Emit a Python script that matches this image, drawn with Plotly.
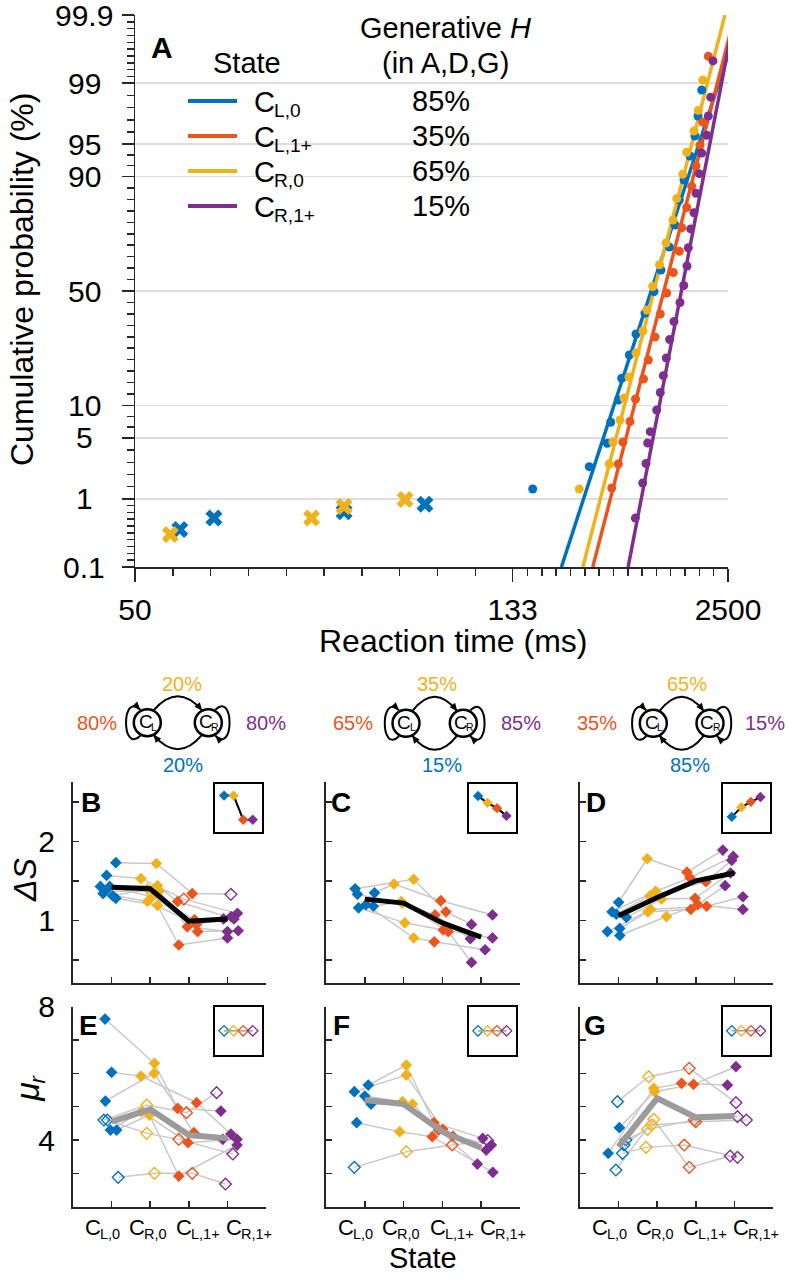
import math
import numpy as np
import plotly.graph_objects as go
from statistics import NormalDist

W, H = 788, 1280
FONT = "Liberation Sans"
AX = "#262626"
ND = NormalDist()

# ------------------------------------------------------------------ data
STATE_ORDER_A = ["CL0", "CL1", "CR0", "CR1"]
STATE_ORDER_BG = ["CL0", "CR0", "CL1", "CR1"]
STATE_SUB = {"CL0": "L,0", "CL1": "L,1+", "CR0": "R,0", "CR1": "R,1+"}
GENERATIVE_H = {"CL0": "85%", "CL1": "35%", "CR0": "65%", "CR1": "15%"}
COLORS = {"CL0": "#0072BD", "CL1": "#EA551D", "CR0": "#F0B21C", "CR1": "#7E2F8E"}

# Panel A: RT quantiles (ms) and cumulative probability (%)
RT_CL0 = [145.9, 200.6, 227.8, 233.8, 248.4, 255.6, 273.1, 290.6, 318.2, 351.4,
          382.4, 427.4, 464.7, 497.5, 539.4, 603.9, 670.7, 718.4, 788.0]
P_CL0 = [1.33, 2.46, 4.41, 7.08, 11.12, 16.42, 23.68, 31.51, 40.14, 49.69,
         59.29, 68.89, 77.00, 84.59, 89.30, 93.47, 95.87, 97.50, 98.78]
RT_CR0 = [188.1, 231.3, 238.0, 251.9, 260.6, 272.3, 290.6, 311.5, 325.0, 346.1,
          375.4, 408.3, 450.9, 477.1, 526.9, 566.6, 656.2, 723.6, 809.1]
P_CR0 = [1.33, 2.64, 4.54, 7.43, 11.55, 16.78, 24.38, 32.71, 41.58, 52.01,
         61.58, 70.45, 78.67, 84.96, 90.42, 93.98, 96.34, 97.84, 99.09]
RT_CL1 = [235.6, 248.4, 258.3, 274.8, 289.2, 313.2, 329.6, 355.5, 379.1, 412.2,
          452.9, 497.5, 518.1, 566.6, 625.0, 685.9, 754.1, 809.1, 951.5]
P_CL1 = [1.37, 2.64, 4.54, 7.20, 11.33, 16.23, 21.99, 30.33, 39.84, 49.11,
         58.20, 67.17, 76.04, 82.51, 87.97, 91.94, 94.87, 97.07, 99.57]
RT_CR1 = [288.7, 310.7, 321.5, 327.4, 336.9, 362.8, 379.1, 394.0, 410.0, 429.7,
          457.7, 503.3, 536.5, 569.8, 584.1, 612.4, 656.2, 685.9, 741.3, 788.0,
          905.8, 951.5, 1028.8, 1116.1]
P_CR1 = [0.55, 1.58, 2.67, 4.44, 5.76, 9.14, 12.79, 17.15, 22.66, 29.36,
         36.64, 44.88, 52.46, 61.02, 68.61, 75.66, 80.94, 86.30, 90.55, 93.87,
         95.94, 97.50, 98.50, 99.50]
# early (express) responses, drawn as crosses
XRT_CL0 = [54.0, 57.5, 76.4, 96.0]
XP_CL0 = [0.38, 0.55, 0.67, 0.85]
XRT_CR0 = [53.1, 70.6, 76.4, 90.3]
XP_CR0 = [0.32, 0.55, 0.79, 0.98]
# LATER fits (promptness mean and SD, 1/s)
FIT_MU = {"CL0": 2.94, "CL1": 2.52, "CR0": 2.85, "CR1": 1.94}
FIT_SIGMA = {"CL0": 0.96, "CL1": 0.76, "CR0": 0.76, "CR1": 0.57}

A_YTICKS = [0.1, 1, 5, 10, 50, 90, 95, 99, 99.9]
A_XTICKS = [50, 133, 2500]

CAT_POS = [1, 2, 3, 4]

# Panels B-D: Delta S per subject ([state][subject]); state order CL0, CR0, CL1+, CR1+
B_Y = [[1.73, 1.57, 1.43, 1.43, 1.37, 1.34, 1.31, 1.28],
       [1.72, 1.53, 1.44, 1.30, 1.37, 1.24, 1.40, 1.19],
       [1.34, 1.27, 1.24, 1.01, 0.92, 0.95, 0.86, 0.69],
       [1.33, 1.09, 1.02, 1.05, 0.86, 1.02, 0.87, 0.78]]
B_X = [[1.11, 0.87, 0.71, 0.95, 0.83, 0.78, 1.03, 1.11],
       [2.16, 1.76, 2.19, 2.05, 2.23, 1.93, 1.93, 2.19],
       [3.09, 2.87, 2.71, 3.15, 2.96, 3.20, 3.23, 2.74],
       [4.09, 4.26, 4.17, 4.10, 4.00, 3.90, 4.28, 4.00]]
B_OPEN = [[0, 0, 0, 0, 0, 0, 0, 0],
          [0, 0, 0, 0, 0, 0, 0, 0],
          [0, 1, 0, 0, 0, 0, 0, 0],
          [1, 0, 0, 0, 0, 0, 0, 0]]
B_MEAN = [1.42, 1.40, 0.99, 1.02]

C_Y = [[1.35, 1.40, 1.33, 1.16, 1.20, 1.18],
       [1.46, 1.52, 1.22, 0.97, 0.78, 1.24],
       [1.25, 1.11, 1.07, 0.88, 0.73, 0.86],
       [1.07, 0.95, 0.77, 0.78, 0.63, 0.47]]
C_X = [[1.25, 0.75, 0.81, 0.84, 1.03, 1.22],
       [1.75, 2.26, 1.96, 2.03, 2.26, 1.94],
       [2.96, 3.09, 2.81, 3.02, 2.79, 3.15],
       [4.29, 3.75, 3.72, 4.29, 4.10, 3.75]]
C_OPEN = [[0] * 6, [0] * 6, [0] * 6, [0] * 6]
C_MEAN = [1.27, 1.22, 0.97, 0.79]

D_Y = [[1.23, 1.11, 1.08, 1.04, 0.90, 0.86, 0.81],
       [1.78, 1.37, 1.31, 1.27, 1.11, 1.14, 1.05],
       [1.61, 1.54, 1.49, 1.28, 1.14, 1.18, 1.20],
       [1.89, 1.81, 1.76, 1.60, 1.44, 1.30, 1.14]]
D_X = [[1.00, 0.83, 0.94, 1.20, 1.03, 0.71, 1.03],
       [1.74, 1.96, 1.81, 2.11, 1.76, 1.83, 2.24],
       [2.77, 2.85, 3.26, 2.98, 2.87, 3.28, 3.05],
       [3.70, 3.97, 3.93, 3.90, 3.76, 4.22, 4.22]]
D_OPEN = [[0] * 7, [0] * 7, [0] * 7, [0] * 7]
D_MEAN = [1.06, 1.29, 1.50, 1.60]

# Panels E-G: mu_r per subject
E_Y = [[7.63, 6.03, 5.17, 4.60, 4.60, 4.30, 4.30, 2.88],
       [6.30, 5.92, 6.00, 5.05, 4.20, 4.85, 4.75, 3.00],
       [4.95, 5.12, 4.22, 4.82, 4.02, 3.92, 2.92, 3.00],
       [4.87, 4.18, 4.02, 5.42, 3.58, 4.02, 3.85, 2.68]]
E_X = [[0.83, 1.00, 0.84, 0.80, 0.89, 0.97, 1.13, 1.17],
       [2.11, 1.76, 2.10, 1.91, 1.91, 1.78, 1.98, 2.11],
       [2.71, 3.20, 3.13, 2.94, 2.74, 2.98, 2.74, 3.09],
       [3.83, 4.09, 3.88, 3.72, 4.14, 4.25, 4.25, 3.95]]
E_OPEN = [[0, 0, 0, 1, 1, 0, 0, 1]] * 4
E_MEAN = [4.55, 4.92, 4.15, 4.05]

F_Y = [[5.65, 5.45, 5.32, 5.08, 4.52, 3.18],
       [6.25, 5.95, 5.15, 5.08, 4.25, 3.65],
       [4.52, 4.32, 4.12, 4.30, 4.10, 3.85],
       [4.05, 3.70, 3.85, 3.28, 3.03, 3.98]]
F_X = [[1.09, 0.73, 1.00, 1.16, 0.79, 0.73],
       [2.07, 2.07, 1.97, 2.23, 1.90, 2.07],
       [2.78, 3.01, 3.27, 2.90, 2.74, 3.25],
       [4.04, 4.13, 4.26, 3.90, 4.30, 4.17]]
F_OPEN = [[0, 0, 0, 0, 0, 1]] * 4
F_MEAN = [5.20, 5.08, 4.25, 3.77]

G_Y = [[5.15, 4.37, 3.60, 4.00, 3.60, 3.10, 3.85],
       [5.90, 5.45, 5.55, 4.32, 3.78, 4.62, 4.45],
       [6.15, 5.67, 5.70, 4.60, 3.85, 3.18, 4.55],
       [5.12, 6.20, 5.65, 4.70, 3.48, 3.52, 4.60]]
G_X = [[0.97, 1.02, 0.73, 1.19, 1.10, 0.93, 1.14],
       [1.78, 1.93, 1.91, 1.75, 1.71, 1.91, 1.85],
       [2.83, 2.94, 2.63, 2.96, 2.70, 2.83, 3.00],
       [4.04, 4.04, 3.82, 4.08, 4.08, 3.89, 4.31]]
G_OPEN = [[1, 0, 0, 1, 1, 1, 1]] * 4
G_MEAN = [3.80, 5.25, 4.68, 4.72]

# inset model predictions (normalised)
INSET_B = [0.76, 0.76, 0.26, 0.26]
INSET_C = [0.75, 0.61, 0.50, 0.34]
INSET_D = [0.32, 0.52, 0.63, 0.73]
INSET_EFG = [0.5, 0.5, 0.5, 0.5]

# transition diagrams: (top CL->CR, left CL->CL, right CR->CR, bottom CR->CL)
DIAG_B = ["20%", "80%", "80%", "20%"]
DIAG_C = ["35%", "65%", "85%", "15%"]
DIAG_D = ["65%", "35%", "15%", "85%"]

DS_TICKS = [1, 2]
DS_MINOR = [0.5, 1.5, 2.5]
MU_TICKS = [4, 8]
MU_MINOR = [2, 3, 5, 6, 7]

# Arial/Liberation Sans advance widths (em units) used to lay out subscripts
CHAR_W = {"C": 0.722, "L": 0.556, "R": 0.722, ",": 0.278, "0": 0.556,
          "1": 0.556, "+": 0.584, "r": 0.333, "μ": 0.576}


# ------------------------------------------------------------------ helpers
def probit(p):
    return ND.inv_cdf(p / 100.0)


def recip(rt):
    return -1000.0 / rt


def P(px, py):
    return px / W, 1 - py / H


def fmt(px, py):
    x, y = P(px, py)
    return f"{x:.5f},{y:.5f}"


def dom_x(a, b):
    return [a / W, b / W]


def dom_y(top, bottom):
    return [1 - bottom / H, 1 - top / H]


def ann(text, px, py, size, color="black", **kw):
    x, y = P(px, py)
    d = dict(text=text, x=x, y=y, xref="paper", yref="paper", showarrow=False,
             font=dict(size=size, color=color, family=FONT),
             xanchor="center", yanchor="middle")
    d.update(kw)
    return d


def tw(s):
    return sum(CHAR_W.get(c, 0.556) for c in s)


def sub_label(main, sub, x, y, size, xref="paper", yref="paper", align="center",
              color="black", ratio=0.66, drop=0.30):
    ss = size * ratio
    wm = tw(main) * size
    ws = tw(sub) * ss
    left = -(wm + ws) / 2 if align == "center" else 0
    common = dict(x=x, y=y, xref=xref, yref=yref, showarrow=False,
                  xanchor="left", yanchor="middle", borderpad=0)
    return [dict(text=main, xshift=left, font=dict(size=size, family=FONT, color=color),
                 **common),
            dict(text=sub, xshift=left + wm - 1, yshift=-drop * size,
                 font=dict(size=ss, family=FONT, color=color), **common)]


traces = []
annotations = []
shapes = []

# ------------------------------------------------------------------ panel A
zlo, zhi = probit(A_YTICKS[0]), probit(A_YTICKS[-1])
A_DATA = {"CL0": (RT_CL0, P_CL0), "CL1": (RT_CL1, P_CL1),
          "CR0": (RT_CR0, P_CR0), "CR1": (RT_CR1, P_CR1)}
for k in STATE_ORDER_A:
    mu, sg = FIT_MU[k], FIT_SIGMA[k]
    traces.append(go.Scatter(x=[-mu + sg * zlo, -mu + sg * zhi], y=[zlo, zhi],
                             mode="lines", line=dict(color=COLORS[k], width=3.5),
                             xaxis="x", yaxis="y", hoverinfo="skip"))
for k in STATE_ORDER_A:
    rt, p = A_DATA[k]
    traces.append(go.Scatter(x=[recip(t) for t in rt], y=[probit(v) for v in p],
                             mode="markers", marker=dict(color=COLORS[k], size=9),
                             xaxis="x", yaxis="y"))
for k, rt, p in [("CL0", XRT_CL0, XP_CL0), ("CR0", XRT_CR0, XP_CR0)]:
    traces.append(go.Scatter(x=[recip(t) for t in rt], y=[probit(v) for v in p],
                             mode="markers",
                             marker=dict(color=COLORS[k], size=15, symbol="x",
                                         line=dict(width=0)),
                             xaxis="x", yaxis="y"))

zmaj = [probit(p) for p in A_YTICKS]
counts = [10, 5, 3, 10, 10, 3, 5, 10]
y_minor = []
for (a, b), c in zip(zip(zmaj[:-1], zmaj[1:]), counts):
    y_minor += list(np.linspace(a, b, c + 1)[1:-1])
x_minor = list(np.arange(-20, -7.5, 1.25)[1:]) + list(np.linspace(-7.5, -0.4, 16)[1:-1])

layout = dict(
    width=W, height=H, margin=dict(l=0, r=0, t=0, b=0, autoexpand=False),
    paper_bgcolor="white", plot_bgcolor="rgba(0,0,0,0)", showlegend=False,
    font=dict(family=FONT, color="black"),
)
layout["xaxis"] = dict(
    domain=dom_x(135, 728), range=[recip(A_XTICKS[0]), recip(A_XTICKS[-1])],
    tickmode="array", tickvals=[recip(t) for t in A_XTICKS],
    ticktext=[str(t) for t in A_XTICKS], tickfont=dict(size=30),
    ticks="outside", ticklen=13, tickwidth=1.5, tickcolor=AX, ticklabelstandoff=2,
    showline=True, linecolor=AX, linewidth=1.5, showgrid=False, zeroline=False,
    anchor="y", automargin=False,
    minor=dict(tickmode="array", tickvals=x_minor, ticks="outside", ticklen=7,
               tickwidth=1.5, tickcolor=AX, showgrid=False),
)
layout["yaxis"] = dict(
    domain=dom_y(15, 567), range=[zlo, zhi], tickmode="array", tickvals=zmaj,
    showticklabels=False, ticks="outside", ticklen=12, tickwidth=1.5, tickcolor=AX,
    showline=True, linecolor=AX, linewidth=1.5, showgrid=True,
    gridcolor="#DDDDDD", gridwidth=1.5, zeroline=False, anchor="x", automargin=False,
    minor=dict(tickmode="array", tickvals=y_minor, ticks="outside", ticklen=7,
               tickwidth=1.5, tickcolor=AX, showgrid=False),
)
for p in A_YTICKS:
    annotations.append(dict(text=f"{p:g}", x=84 / W, y=probit(p), xref="paper",
                            yref="y", showarrow=False, xanchor="center",
                            yanchor="middle", font=dict(size=30, family=FONT)))

# legend of panel A
annotations.append(ann("<b>A</b>", 162, 47, 30))
annotations.append(ann("State", 247, 63, 29))
annotations.append(ann("Generative <i>H</i>", 445, 28, 29))
annotations.append(ann("(in A,D,G)", 445, 63, 29))
for i, k in enumerate(STATE_ORDER_A):
    yy = 101 + i * 35
    x0, y0 = P(188, yy)
    x1, _ = P(237, yy)
    shapes.append(dict(type="line", xref="paper", yref="paper", x0=x0, x1=x1,
                       y0=y0, y1=y0, line=dict(color=COLORS[k], width=4)))
    lx, ly = P(253, yy + 1)
    annotations += sub_label("C", STATE_SUB[k], lx, ly, 29, align="left")
    annotations.append(ann(GENERATIVE_H[k], 441, yy, 29))

annotations.append(ann("Cumulative probability (%)", 22, 280, 32, textangle=-90))
annotations.append(ann("Reaction time (ms)", 453, 641, 32))

# ------------------------------------------------------------------ panels B-G
PANELS = [("B", B_X, B_Y, B_OPEN, B_MEAN, INSET_B),
          ("C", C_X, C_Y, C_OPEN, C_MEAN, INSET_C),
          ("D", D_X, D_Y, D_OPEN, D_MEAN, INSET_D),
          ("E", E_X, E_Y, E_OPEN, E_MEAN, INSET_EFG),
          ("F", F_X, F_Y, F_OPEN, F_MEAN, INSET_EFG),
          ("G", G_X, G_Y, G_OPEN, G_MEAN, INSET_EFG)]
COLS = [(73, 266), (326, 520), (580, 773)]
ROWS = [(782, 983), (1006.7, 1206.7)]
INSET_COLS = [(215, 262.3), (469, 516), (722.7, 770)]
INSET_ROWS = [(784, 832.3), (1006.7, 1055)]
LETTER_POS = [(91, 802), (341, 802), (596, 802), (88, 1025), (341, 1025), (595, 1025)]
LABEL_DX = [-0.25, -0.08, 0.22, 0.55]

for i, (name, X, Y, OPEN, MEAN, INSET) in enumerate(PANELS):
    col, row = i % 3, i // 3
    n = i + 2
    xa, ya = f"x{n}", f"y{n}"
    ns = len(Y[0])
    for s in range(ns):
        traces.append(go.Scatter(x=[X[j][s] for j in range(4)],
                                 y=[Y[j][s] for j in range(4)], mode="lines",
                                 line=dict(color="#C9C9C9", width=1.5),
                                 xaxis=xa, yaxis=ya, hoverinfo="skip"))
    for j, k in enumerate(STATE_ORDER_BG):
        fx = [X[j][s] for s in range(ns) if not OPEN[j][s]]
        fy = [Y[j][s] for s in range(ns) if not OPEN[j][s]]
        ox = [X[j][s] for s in range(ns) if OPEN[j][s]]
        oy = [Y[j][s] for s in range(ns) if OPEN[j][s]]
        traces.append(go.Scatter(x=fx, y=fy, mode="markers",
                                 marker=dict(symbol="diamond", size=9, color=COLORS[k],
                                             line=dict(width=0)),
                                 xaxis=xa, yaxis=ya))
        traces.append(go.Scatter(x=ox, y=oy, mode="markers",
                                 marker=dict(symbol="diamond-open", size=9,
                                             color=COLORS[k], line=dict(width=1.4)),
                                 xaxis=xa, yaxis=ya))
    traces.append(go.Scatter(x=CAT_POS, y=MEAN, mode="lines",
                             line=dict(color="black" if row == 0 else "#9B9B9B",
                                       width=5 if row == 0 else 6),
                             xaxis=xa, yaxis=ya, hoverinfo="skip"))

    tick_common = dict(ticks="inside", ticklen=6, tickwidth=1.5, tickcolor=AX)
    layout[f"xaxis{n}"] = dict(
        domain=dom_x(*COLS[col]), range=[0, 5], tickmode="array", tickvals=[],
        showticklabels=False, showline=True, linecolor=AX, linewidth=2,
        showgrid=False, zeroline=False, anchor=ya, automargin=False,
        minor=dict(tickmode="array", tickvals=CAT_POS, showgrid=False, **tick_common),
        **tick_common)
    if row == 0:
        yt, ym, yr = DS_TICKS, DS_MINOR, [0.21, 2.75]
    else:
        yt, ym, yr = MU_TICKS, MU_MINOR, [2, 8]
    if col == 0:
        ymajor = dict(tickmode="array", tickvals=yt, ticktext=[f"{v:g}" for v in yt],
                      showticklabels=True, tickfont=dict(size=30),
                      ticklabelstandoff=10)
        yminor = ym
    else:
        ymajor = dict(tickmode="array", tickvals=[], showticklabels=False)
        yminor = sorted(yt + ym)
    layout[f"yaxis{n}"] = dict(
        domain=dom_y(*ROWS[row]), range=yr,
        showline=True, linecolor=AX, linewidth=2, showgrid=False, zeroline=False,
        anchor=xa, automargin=False,
        minor=dict(tickmode="array", tickvals=yminor, showgrid=False, **tick_common),
        **tick_common, **ymajor)

    # inset
    m = i + 8
    ixa, iya = f"x{m}", f"y{m}"
    traces.append(go.Scatter(x=CAT_POS, y=INSET, mode="lines",
                             line=dict(color="black" if row == 0 else "#9B9B9B",
                                       width=2 if row == 0 else 1.5),
                             xaxis=ixa, yaxis=iya, hoverinfo="skip"))
    for j, k in enumerate(STATE_ORDER_BG):
        traces.append(go.Scatter(
            x=[CAT_POS[j]], y=[INSET[j]], mode="markers",
            marker=dict(symbol="diamond" if row == 0 else "diamond-open", size=8,
                        color=COLORS[k], line=dict(width=0 if row == 0 else 1.3)),
            xaxis=ixa, yaxis=iya))
    inset_ax = dict(showticklabels=False, ticks="", tickvals=[], showline=True,
                    mirror=True, linecolor="black", linewidth=2, showgrid=False,
                    zeroline=False, automargin=False)
    layout[f"xaxis{m}"] = dict(domain=dom_x(*INSET_COLS[col]), range=[0.05, 5.0],
                               anchor=iya, **inset_ax)
    layout[f"yaxis{m}"] = dict(domain=dom_y(*INSET_ROWS[row]), range=[0, 1],
                               anchor=ixa, **inset_ax)

    annotations.append(ann(f"<b>{name}</b>", *LETTER_POS[i], 28))

    if row == 1:
        for j, k in enumerate(STATE_ORDER_BG):
            annotations += sub_label("C", STATE_SUB[k], CAT_POS[j] + LABEL_DX[j],
                                     1 - 1227 / H, 22, xref=xa, yref="paper")

annotations.append(ann("<i>ΔS</i>", 25, 880, 32, textangle=-90))
# rotated mu with subscript r
MU_SIZE = 34
mu_w = tw("μ") * MU_SIZE
r_w = tw("r") * MU_SIZE * 0.66
mu_tot = mu_w + r_w
annotations.append(ann("<i>μ</i>", 27, 1088 + mu_tot / 2 - mu_w / 2, MU_SIZE, textangle=-90))
annotations.append(ann("<i>r</i>", 27 + 0.30 * MU_SIZE, 1088 + mu_tot / 2 - mu_w - r_w / 2 + 1,
                       MU_SIZE * 0.66, textangle=-90))
annotations.append(ann("State", 423, 1258, 29))


# ------------------------------------------------------------------ diagrams
def arrowhead(tip, frm, L=8, Wd=7):
    dx, dy = tip[0] - frm[0], tip[1] - frm[1]
    nn = math.hypot(dx, dy)
    ux, uy = dx / nn, dy / nn
    bx, by = tip[0] - ux * L, tip[1] - uy * L
    nx, ny = -uy, ux
    path = (f"M {fmt(*tip)} L {fmt(bx + nx * Wd / 2, by + ny * Wd / 2)} "
            f"L {fmt(bx - nx * Wd / 2, by - ny * Wd / 2)} Z")
    return dict(type="path", xref="paper", yref="paper", path=path,
                fillcolor="black", line=dict(width=0))


def curve(path):
    return dict(type="path", xref="paper", yref="paper", path=path,
                line=dict(color="black", width=2))


DIAG_GEOM = [(147.3, 208.3, 722.7, (182, 684), (97, 723), (266, 723), (183, 765)),
             (406.0, 463.3, 723.3, (437, 684), (353, 723), (521, 723), (442, 765)),
             (653.3, 710.0, 723.3, (687, 684), (597, 723), (765, 723), (690, 765))]
DIAGS = [DIAG_B, DIAG_C, DIAG_D]
PCT_COLORS = [COLORS["CR0"], COLORS["CL1"], COLORS["CR1"], COLORS["CL0"]]
R = 13.5
for (xl, xr, yc, ptop, pleft, pright, pbot), texts in zip(DIAG_GEOM, DIAGS):
    mid = (xl + xr) / 2
    # top arc CL -> CR
    s, c, e = (xl + 6, yc - 12), (mid, yc - 41), (xr - 6, yc - 12)
    shapes.append(curve(f"M {fmt(*s)} Q {fmt(*c)} {fmt(*e)}"))
    shapes.append(arrowhead(e, c))
    # bottom arc CR -> CL
    s, c, e = (xr - 6, yc + 12), (mid, yc + 41), (xl + 6, yc + 12)
    shapes.append(curve(f"M {fmt(*s)} Q {fmt(*c)} {fmt(*e)}"))
    shapes.append(arrowhead(e, c))
    # left self-loop
    s, c1, c2, e = (xl - 7, yc + 13), (xl - 26, yc + 32), (xl - 26, yc - 32), (xl - 7, yc - 13)
    shapes.append(curve(f"M {fmt(*s)} C {fmt(*c1)} {fmt(*c2)} {fmt(*e)}"))
    shapes.append(arrowhead(e, c2))
    # right self-loop
    s, c1, c2, e = (xr + 7, yc - 13), (xr + 26, yc - 32), (xr + 26, yc + 32), (xr + 7, yc + 13)
    shapes.append(curve(f"M {fmt(*s)} C {fmt(*c1)} {fmt(*c2)} {fmt(*e)}"))
    shapes.append(arrowhead(e, c2))
    for cx, lab in [(xl, "L"), (xr, "R")]:
        x0, y0 = P(cx - R, yc + R)
        x1, y1 = P(cx + R, yc - R)
        shapes.append(dict(type="circle", xref="paper", yref="paper", x0=x0, y0=y0,
                           x1=x1, y1=y1, fillcolor="white", layer="below",
                           line=dict(color="black", width=2.5)))
        lx, ly = P(cx, yc - 1)
        annotations += sub_label("C", lab, lx, ly, 19, ratio=0.55, drop=0.28)
    for pos, t, colr in zip([ptop, pleft, pright, pbot], texts, PCT_COLORS):
        annotations.append(ann(t, pos[0], pos[1], 20, color=colr))

layout["annotations"] = annotations
layout["shapes"] = shapes

fig = go.Figure(data=traces, layout=layout)
fig.write_html("out.html",
               config={"displayModeBar": False, "staticPlot": True},
               post_script="document.body.style.margin='0px';"
                           "document.body.style.overflow='hidden';")
